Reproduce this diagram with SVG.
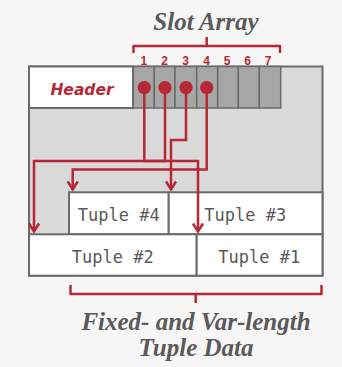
<svg xmlns="http://www.w3.org/2000/svg" width="342" height="367" viewBox="0 0 342 367">
<style>
.title{font-family:"Liberation Serif","Times New Roman",serif;font-weight:bold;font-style:italic;font-size:25px;fill:#5a5a5a;text-anchor:middle}
.num{font-family:"Liberation Sans",Arial,sans-serif;font-weight:bold;font-size:12px;fill:#b72735;text-anchor:middle}
.hdr{font-family:"DejaVu Sans",sans-serif;font-weight:bold;font-style:italic;font-size:15.5px;fill:#b72735;text-anchor:middle}
.tup{font-family:"DejaVu Sans Mono","Liberation Mono",monospace;font-size:17px;fill:#595959;text-anchor:middle}
.box{stroke:#6b6b6b;stroke-width:2}
.slot{fill:#a6a6a6;stroke:#6b6b6b;stroke-width:1.5}
.wire{fill:none;stroke:#b72735;stroke-width:2.5;stroke-linejoin:miter}
.brace{fill:none;stroke:#b72735;stroke-width:2.5;stroke-linejoin:round}
.dot{fill:#b72735}
</style>
<defs>
<marker id="arr" markerUnits="userSpaceOnUse" markerWidth="20" markerHeight="20" viewBox="-10 -10 20 20" refX="0" refY="0" orient="auto">
<path d="M-8,-5 L0,0 L-8,5" fill="none" stroke="#b72735" stroke-width="2.5"/>
</marker>
</defs>
<rect x="0" y="0" width="342" height="367" fill="#f6f6f6"/>
<text class="title" x="206" y="30">Slot Array</text>
<path class="brace" d="M133.5,53 V46 H280 V53 M206.7,46 V37"/>
<g id="page">
<rect class="box" x="29" y="66.5" width="293.5" height="209" fill="#d9d9d9"/>
</g>
<g id="header">
<rect class="box" x="29" y="66.5" width="104" height="41.5" fill="#ffffff"/>
<text class="hdr" x="82" y="95">Header</text>
</g>
<g id="slots">
<rect class="slot" x="133.3" y="66.5" width="21" height="41.5"/>
<rect class="slot" x="154.3" y="66.5" width="20.7" height="41.5"/>
<rect class="slot" x="175" y="66.5" width="21.7" height="41.5"/>
<rect class="slot" x="196.7" y="66.5" width="21" height="41.5"/>
<rect class="slot" x="217.7" y="66.5" width="20.6" height="41.5"/>
<rect class="slot" x="238.3" y="66.5" width="21" height="41.5"/>
<rect class="slot" x="259.3" y="66.5" width="21.4" height="41.5"/>
<text class="num" x="143.8" y="64.5">1</text>
<text class="num" x="164.6" y="64.5">2</text>
<text class="num" x="185.5" y="64.5">3</text>
<text class="num" x="206.5" y="64.5">4</text>
<text class="num" x="227" y="64.5">5</text>
<text class="num" x="247.5" y="64.5">6</text>
<text class="num" x="268" y="64.5">7</text>
</g>
<g id="tuple4">
<rect class="box" x="69" y="192.3" width="99.7" height="42" fill="#ffffff"/>
<text class="tup" x="118.8" y="220.7">Tuple #4</text>
</g>
<g id="tuple3">
<rect class="box" x="168.7" y="192.3" width="153.8" height="42" fill="#ffffff"/>
<text class="tup" x="245.3" y="220.7">Tuple #3</text>
</g>
<g id="tuple2">
<rect class="box" x="29" y="234.3" width="167.7" height="41.4" fill="#ffffff"/>
<text class="tup" x="112.8" y="262.7">Tuple #2</text>
</g>
<g id="tuple1">
<rect class="box" x="196.7" y="234.3" width="125.8" height="41.4" fill="#ffffff"/>
<text class="tup" x="259.3" y="262.7">Tuple #1</text>
</g>
<g id="connectors">
<path class="wire" d="M144.3,88 V161 H198 V231.5" marker-end="url(#arr)"/>
<path class="wire" d="M165,88 V161 H34 V231.5" marker-end="url(#arr)"/>
<path class="wire" d="M186,88 V140 H171 V189.5" marker-end="url(#arr)"/>
<path class="wire" d="M206.7,88 V169.5 H72.7 V189.5" marker-end="url(#arr)"/>
<circle class="dot" cx="144.3" cy="87.5" r="6.6"/>
<circle class="dot" cx="165" cy="87.5" r="6.6"/>
<circle class="dot" cx="186" cy="87.5" r="6.6"/>
<circle class="dot" cx="206.7" cy="87.5" r="6.6"/>
</g>
<path class="brace" d="M70.5,285 V294 H321.5 V285 M195.7,294 V303"/>
<text class="title" x="196" y="330">Fixed- and Var-length</text>
<text class="title" x="196" y="356">Tuple Data</text>
</svg>
